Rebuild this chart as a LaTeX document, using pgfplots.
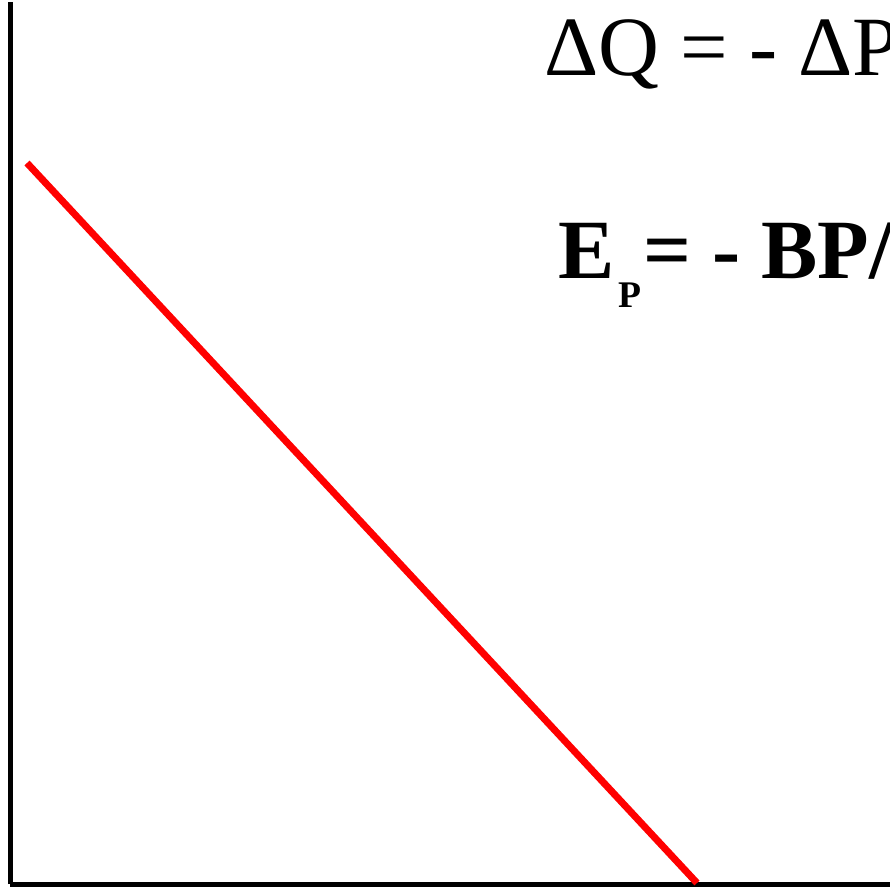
\documentclass[border=0pt]{standalone}
\usepackage{fontspec}
\setmainfont{Liberation Serif}
\usepackage{pgfplots}
\pgfplotsset{compat=1.18}

\begin{document}
\begin{tikzpicture}
\path[use as bounding box] (0,0) rectangle (89mm,88.9mm);
\begin{axis}[
    at={(1mm,0.5mm)},
    anchor=south west,
    scale only axis,
    width=88mm,
    height=88.2mm,
    xmin=0, xmax=88,
    ymin=0, ymax=88.2,
    axis lines=left,
    axis line style={-, line width=0.5mm, black},
    xtick=\empty, ytick=\empty,
    clip=false,
]
% demand line
\addplot[color=red, line width=0.7mm] coordinates {(1.7,72.1) (68.7,0.1)};
\node[anchor=base west, inner sep=0pt, font=\fontsize{24}{29}\selectfont]
    at (axis cs:53.4,80.8) {ΔQ = - ΔP};
\node[anchor=base west, inner sep=0pt, font=\fontsize{24}{29}\selectfont\bfseries]
    at (axis cs:54.8,60.5) {E\kern1pt\raisebox{-8.2pt}{\fontsize{10.7}{12}\selectfont P}\kern0.5pt= - BP/Q};
\end{axis}
\end{tikzpicture}
\end{document}
